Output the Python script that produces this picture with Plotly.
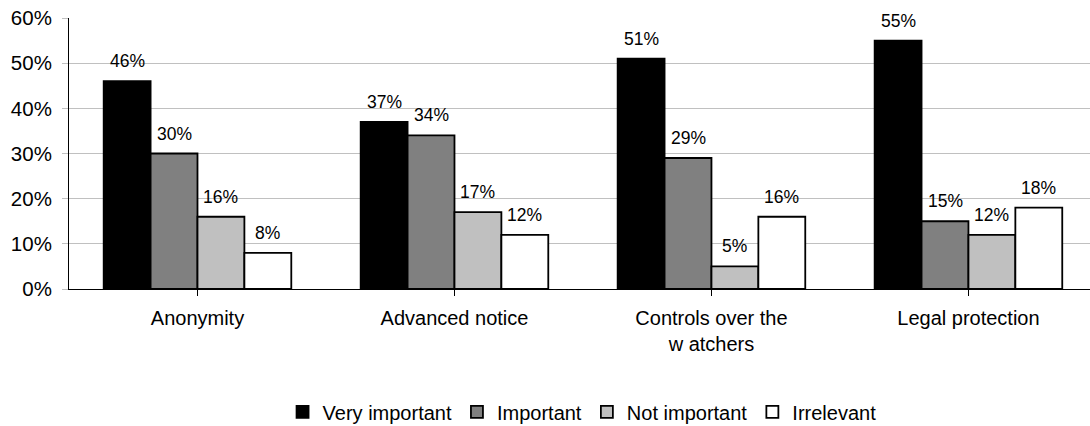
import plotly.graph_objects as go

# Survey results: importance of each safeguard
categories = ["Anonymity", "Advanced notice", "Controls over the<br>w atchers", "Legal protection"]
series_names = ["Very important", "Important", "Not important", "Irrelevant"]
very_important = [46, 37, 51, 55]
important = [30, 34, 29, 15]
not_important = [16, 17, 5, 12]
irrelevant = [8, 12, 16, 18]
y_ticks = [0, 10, 20, 30, 40, 50, 60]

series_values = [very_important, important, not_important, irrelevant]
fills = ["#000000", "#808080", "#c0c0c0", "#ffffff"]

FONT = "Liberation Sans, Arial, sans-serif"
BARGAP = 0.27
n_series = len(series_values)
bar_w = (1 - BARGAP) / n_series

fig = go.Figure()
x_idx = list(range(len(categories)))
for name, vals, color in zip(series_names, series_values, fills):
    fig.add_trace(go.Bar(
        x=x_idx, y=vals, name=name,
        marker=dict(color=color, line=dict(color="#000000", width=1.8)),
    ))

# value labels above each bar
annotations = []
for s, vals in enumerate(series_values):
    offset = -(1 - BARGAP) / 2 + bar_w * (s + 0.5)
    for i, v in enumerate(vals):
        annotations.append(dict(
            x=i + offset, y=v, xref="x", yref="y",
            text=f"{v}%", showarrow=False, yanchor="bottom", yshift=8,
            font=dict(family=FONT, size=17.5, color="#000000"),
        ))

fig.update_layout(
    width=1090, height=426,
    margin=dict(l=69, r=0, t=18, b=137),
    paper_bgcolor="#ffffff", plot_bgcolor="#ffffff",
    barmode="group", bargap=BARGAP, bargroupgap=0,
    font=dict(family=FONT, size=19, color="#000000"),
    annotations=annotations,
    showlegend=True,
    legend=dict(
        orientation="h", xref="container", yref="container",
        x=0.534, xanchor="center", y=0.033, yanchor="middle",
        font=dict(family=FONT, size=20, color="#000000"),
        itemwidth=30, tracegroupgap=0,
    ),
)
fig.update_xaxes(
    tickmode="array", tickvals=x_idx, ticktext=categories,
    range=[-0.5, 3.473], showgrid=False, zeroline=False,
    showline=True, linecolor="#000000", linewidth=1,
    ticks="outside", tickson="boundaries", ticklen=6, tickcolor="#000000",
    ticklabelstandoff=5, tickfont=dict(family=FONT, size=20, color="#000000"),
)
fig.update_yaxes(
    range=[0, 60], tickmode="array", tickvals=y_ticks,
    ticktext=[f"{t}%" for t in y_ticks],
    showgrid=True, gridcolor="#c0c0c0", gridwidth=1, zeroline=False,
    showline=True, linecolor="#000000", linewidth=1,
    ticks="outside", ticklen=6, tickcolor="#c0c0c0",
    ticklabelstandoff=6, tickfont=dict(family=FONT, size=20.5, color="#000000"),
)

fig.write_html("out.html")
